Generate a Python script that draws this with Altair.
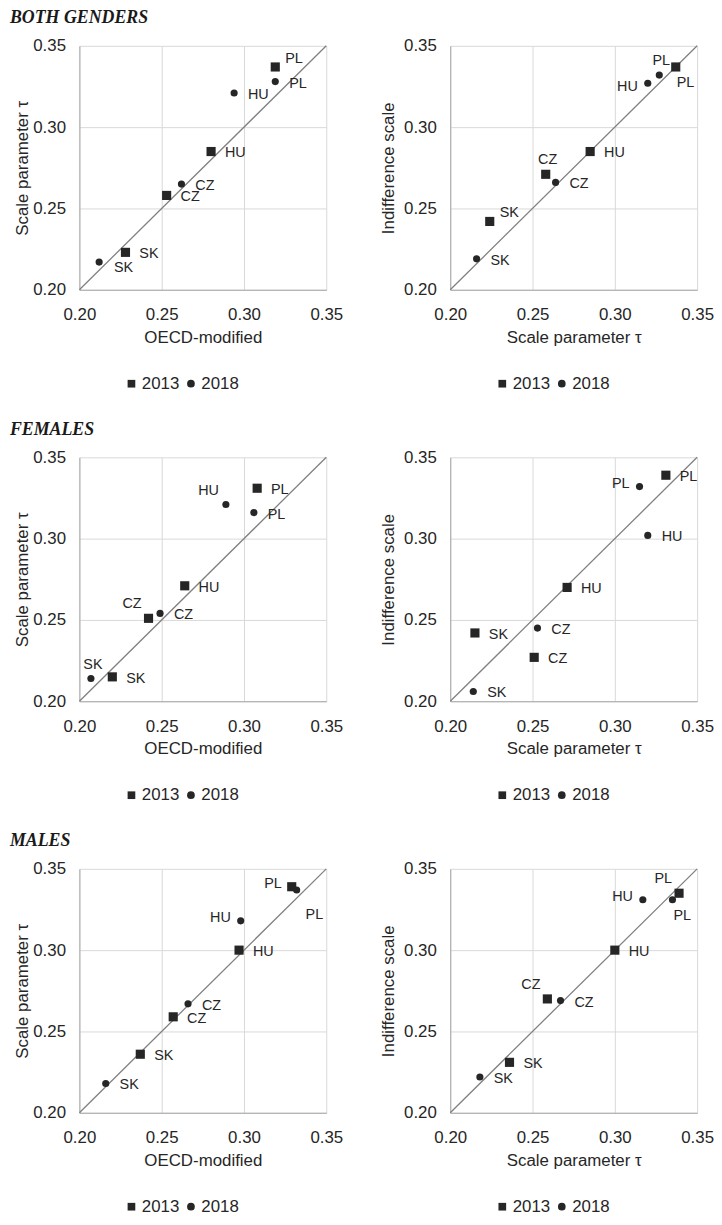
import altair as alt
import pandas as pd

countries = ["PL", "HU", "CZ", "SK"]
years = ["2013", "2018"]
ticks = [0.20, 0.25, 0.30, 0.35]
diag_vals = [0.20, 0.35]

# ---- BOTH GENDERS ----
bg_oecd_2013 = [0.319, 0.280, 0.253, 0.228]
bg_tau_2013 = [0.337, 0.285, 0.258, 0.223]
bg_oecd_2018 = [0.319, 0.294, 0.262, 0.212]
bg_tau_2018 = [0.328, 0.321, 0.265, 0.217]
bg_lab1_2013 = ["ru", "r", "r", "r"]
bg_lab1_2018 = ["r", "r", "r", "rd"]

bg_tau2_2013 = [0.337, 0.285, 0.258, 0.224]
bg_ind_2013 = [0.337, 0.285, 0.271, 0.242]
bg_tau2_2018 = [0.327, 0.320, 0.264, 0.216]
bg_ind_2018 = [0.332, 0.327, 0.266, 0.219]
bg_lab2_2013 = ["b", "r", "a", "ru"]
bg_lab2_2018 = ["a", "ld", "r", "r"]

# ---- FEMALES ----
f_oecd_2013 = [0.308, 0.264, 0.242, 0.220]
f_tau_2013 = [0.331, 0.271, 0.251, 0.215]
f_oecd_2018 = [0.306, 0.289, 0.249, 0.207]
f_tau_2018 = [0.316, 0.321, 0.254, 0.214]
f_lab1_2013 = ["r", "r", "ul", "r"]
f_lab1_2018 = ["r", "ul", "r", "a"]

f_tau2_2013 = [0.331, 0.271, 0.251, 0.215]
f_ind_2013 = [0.339, 0.270, 0.227, 0.242]
f_tau2_2018 = [0.315, 0.320, 0.253, 0.214]
f_ind_2018 = [0.332, 0.302, 0.245, 0.206]
f_lab2_2013 = ["r", "r", "r", "r"]
f_lab2_2018 = ["l", "r", "r", "r"]

# ---- MALES ----
m_oecd_2013 = [0.329, 0.297, 0.257, 0.237]
m_tau_2013 = [0.339, 0.300, 0.259, 0.236]
m_oecd_2018 = [0.332, 0.298, 0.266, 0.216]
m_tau_2018 = [0.337, 0.318, 0.267, 0.218]
m_lab1_2013 = ["l", "r", "r", "r"]
m_lab1_2018 = ["bb", "l", "r", "r"]

m_tau2_2013 = [0.339, 0.300, 0.259, 0.236]
m_ind_2013 = [0.335, 0.300, 0.270, 0.231]
m_tau2_2018 = [0.335, 0.317, 0.267, 0.218]
m_ind_2018 = [0.331, 0.331, 0.269, 0.222]
m_lab2_2013 = ["ul", "r", "ul", "r"]
m_lab2_2018 = ["b", "l", "r", "r"]

# label placement styles: code -> (align, dx, dy)
PLACE = {
    "r": ("left", 14, 2),
    "rd": ("left", 15, 6),
    "ru": ("left", 10, -8),
    "a": ("center", 2, -14),
    "ul": ("right", -7, -14),
    "l": ("right", -10, -3),
    "ld": ("right", -10, 4),
    "b": ("left", 1, 16),
    "bb": ("left", 9, 25),
}

FONT = "Liberation Sans"
INK = "#262626"
W, H = 249, 246


def panel(x13, y13, x18, y18, lab13, lab18, xtitle, ytitle, ypad):
    df = pd.DataFrame({
        "country": countries + countries,
        "year": [years[0]] * 4 + [years[1]] * 4,
        "x": x13 + x18,
        "y": y13 + y18,
        "pos": lab13 + lab18,
    })
    diag = pd.DataFrame({"v": diag_vals})
    sc = alt.Scale(domain=[0.20, 0.35], nice=False, zero=False)
    xax = alt.Axis(values=ticks, format=".2f", grid=True, ticks=False, tickSize=0,
                   labelFlush=False, labelPadding=17, titlePadding=7, title=xtitle)
    yax = alt.Axis(values=ticks, format=".2f", grid=True, ticks=False, tickSize=0,
                   labelPadding=14, titlePadding=ypad, title=ytitle)

    line = alt.Chart(diag).mark_line(color="#808080", strokeWidth=1.3).encode(
        x=alt.X("v:Q", scale=sc, axis=xax),
        y=alt.Y("v:Q", scale=sc, axis=yax),
    )
    pts = alt.Chart(df).mark_point(filled=True, opacity=1, color=INK).encode(
        x=alt.X("x:Q", scale=sc, axis=xax),
        y=alt.Y("y:Q", scale=sc, axis=yax),
        shape=alt.Shape("year:N", scale=alt.Scale(domain=years, range=["square", "circle"]),
                        legend=alt.Legend(orient="none", legendX=44, legendY=H + 86,
                                          direction="horizontal", title=None,
                                          labelFontSize=17, labelFont=FONT, labelColor=INK,
                                          symbolSize=60, symbolFillColor=INK,
                                          symbolStrokeWidth=0, labelOffset=2,
                                          columnPadding=3)),
        size=alt.condition(alt.datum.year == years[0], alt.value(85), alt.value(52)),
    )
    layers = [line, pts]
    for code, (align, dx, dy) in PLACE.items():
        if code not in df["pos"].values:
            continue
        t = alt.Chart(df).transform_filter(alt.datum.pos == code).mark_text(
            align=align, baseline="middle", dx=dx, dy=dy, fontSize=14.5, font=FONT, color=INK
        ).encode(
            x=alt.X("x:Q", scale=sc, axis=xax),
            y=alt.Y("y:Q", scale=sc, axis=yax),
            text="country:N",
        )
        layers.append(t)
    return alt.layer(*layers).properties(width=W, height=H)


def row(title, left, right):
    return alt.hconcat(left, right, spacing=36, title=alt.Title(
        title, anchor="start", font="Liberation Serif", fontSize=18, fontStyle="italic",
        fontWeight="bold", color="#1a1a1a", offset=10, dx=-4)
    ).resolve_scale(shape="independent").resolve_legend(shape="independent")


T1 = "Scale parameter τ"
T2 = "Indifference scale"
r1 = row("BOTH GENDERS",
         panel(bg_oecd_2013, bg_tau_2013, bg_oecd_2018, bg_tau_2018, bg_lab1_2013, bg_lab1_2018,
               "OECD-modified", T1, 1),
         panel(bg_tau2_2013, bg_ind_2013, bg_tau2_2018, bg_ind_2018, bg_lab2_2013, bg_lab2_2018,
               T1, T2, 6))
r2 = row("FEMALES",
         panel(f_oecd_2013, f_tau_2013, f_oecd_2018, f_tau_2018, f_lab1_2013, f_lab1_2018,
               "OECD-modified", T1, 1),
         panel(f_tau2_2013, f_ind_2013, f_tau2_2018, f_ind_2018, f_lab2_2013, f_lab2_2018,
               T1, T2, 6))
r3 = row("MALES",
         panel(m_oecd_2013, m_tau_2013, m_oecd_2018, m_tau_2018, m_lab1_2013, m_lab1_2018,
               "OECD-modified", T1, 1),
         panel(m_tau2_2013, m_ind_2013, m_tau2_2018, m_ind_2018, m_lab2_2013, m_lab2_2018,
               T1, T2, 6))

chart = alt.vconcat(r1, r2, r3, spacing=29).resolve_scale(
    shape="independent"
).resolve_legend(shape="independent").properties(
    padding={"left": 1, "top": -4, "right": 0, "bottom": 0},
    background="white",
).configure_view(stroke=None).configure_axis(
    gridColor="#d9d9d9", gridWidth=1, domainColor="#a6a6a6", domainWidth=1,
    labelFont=FONT, titleFont=FONT, labelFontSize=17, titleFontSize=17,
    labelColor=INK, titleColor=INK, titleFontWeight="normal",
)

chart.save("out.html", embed_options={"renderer": "svg", "actions": False})
